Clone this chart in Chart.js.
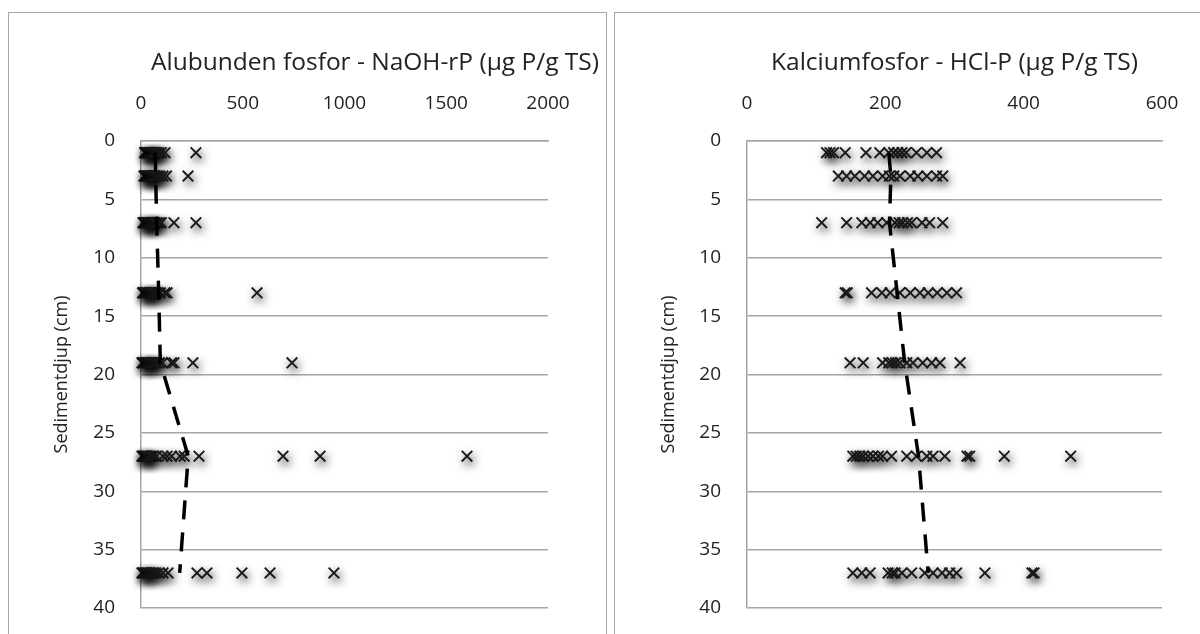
<!DOCTYPE html>
<html>
<head>
<meta charset="utf-8">
<script src="https://cdn.jsdelivr.net/npm/chart.js@4.4.1/dist/chart.umd.min.js"></script>
<style>
    html, body { margin: 0; padding: 0; background: #fff; }
    body { width: 1200px; height: 634px; position: relative; overflow: hidden; }
    .frame { position: absolute; top: 12px; height: 700px; border: 1px solid #a6a6a6; box-sizing: border-box; }
    canvas { position: absolute; top: 0; }
</style>
</head>
<body>
<div class="frame" style="left: 8px; width: 599px;"></div>
<div class="frame" style="left: 614px; width: 700px;"></div>
<canvas id="alChart" width="607" height="634" style="left: 0;"></canvas>
<canvas id="caChart" width="593" height="634" style="left: 607px;"></canvas>
<script>
// Sediment depths (cm) where samples were taken
const depths = [1, 3, 7, 13, 19, 27, 37];

// NaOH-rP (ug P/g TS), one list per depth
const alP = [
    [18, 22, 25, 30, 32, 38, 42, 44, 50, 52, 56, 62, 66, 70, 78, 88, 100, 118, 270],
    [15, 20, 22, 28, 30, 36, 40, 42, 48, 52, 55, 62, 66, 70, 80, 92, 108, 125, 231],
    [10, 15, 18, 22, 25, 32, 35, 38, 45, 48, 52, 60, 64, 68, 78, 90, 100, 162, 270],
    [8, 12, 15, 22, 26, 30, 38, 42, 45, 52, 56, 60, 70, 82, 95, 118, 128, 570],
    [5, 10, 12, 20, 24, 28, 35, 40, 42, 50, 55, 58, 66, 75, 90, 105, 150, 162, 255, 742],
    [5, 10, 12, 15, 20, 25, 28, 35, 42, 50, 60, 75, 108, 128, 150, 192, 212, 285, 698, 880, 1602],
    [5, 10, 12, 20, 25, 28, 35, 42, 50, 60, 72, 88, 108, 133, 275, 324, 496, 634, 948]
];
const alMean = [70, 72, 77, 87, 95, 232, 190];

// HCl-P (ug P/g TS), one list per depth
const caP = [
    [115, 120, 125, 142, 172, 192, 205, 212, 218, 224, 230, 245, 260, 274],
    [132, 144, 156, 170, 182, 196, 206, 212, 221, 236, 247, 260, 274, 283],
    [108, 144, 166, 178, 189, 202, 214, 220, 225, 232, 238, 253, 264, 283],
    [142, 145, 180, 195, 207, 221, 236, 250, 262, 275, 289, 303],
    [149, 168, 196, 205, 210, 215, 221, 231, 240, 254, 267, 279, 308],
    [153, 158, 163, 168, 175, 182, 190, 196, 209, 231, 245, 260, 269, 286, 318, 322, 372, 468],
    [153, 166, 178, 204, 210, 214, 224, 238, 257, 269, 282, 293, 303, 344, 412, 415]
];
const caMean = [205, 208, 206, 217, 228, 248, 262];

const textColor = '#222';
const gridColor = '#a6a6a6';
const tickFont = { family: 'Open Sans', size: 19 };
const axisFont = { family: 'Open Sans', size: 18 };
const titleFont = { family: 'Open Sans', size: 24.5, weight: 'normal' };

function toPoints(lists) {
    return lists.flatMap((vals, i) => vals.map(v => ({ x: v, y: depths[i] })));
}

// Excel style soft shadow behind the markers
const markerShadow = {
    id: 'markerShadow',
    beforeDatasetDraw(chart, args) {
        if (!chart.data.datasets[args.index].shadow) return;
        const ctx = chart.ctx;
        ctx.save();
        ctx.shadowColor = 'rgba(0,0,0,0.85)';
        ctx.shadowBlur = 8;
        ctx.shadowOffsetX = 2;
        ctx.shadowOffsetY = 4;
    },
    afterDatasetDraw(chart, args) {
        if (!chart.data.datasets[args.index].shadow) return;
        chart.ctx.restore();
    }
};

function datasets(values, mean) {
    return [
        {
            // mean profile, drawn on top
            data: mean.map((v, i) => ({ x: v, y: depths[i] })),
            showLine: true,
            borderColor: '#000',
            borderWidth: 3.5,
            borderDash: [19, 13],
            pointRadius: 0
        },
        {
            data: toPoints(values),
            pointStyle: 'crossRot',
            pointRadius: 7.5,
            borderWidth: 1.9,
            borderColor: '#1a1a1a',
            clip: false,
            shadow: true
        }
    ];
}

// drop the label overhang padding so the plot box is exactly where we set it
function noOverhang(s) {
    s.paddingTop = 0;
    s.paddingBottom = 0;
    s.paddingLeft = 0;
    s.paddingRight = 0;
}

function yAxis(width) {
    return {
        type: 'linear',
        reverse: true,
        min: 0,
        max: 40,
        ticks: { stepSize: 5, padding: 26, color: textColor, font: tickFont },
        grid: { color: gridColor, lineWidth: 1.5, drawTicks: false },
        border: { color: gridColor, width: 1.5 },
        title: { display: true, text: 'Sedimentdjup (cm)', color: textColor, font: axisFont, padding: { top: 51, bottom: 0 } },
        afterFit: s => { s.width = width; noOverhang(s); }
    };
}

const plain = v => String(v);

// Aluminium-bound phosphorus
new Chart(document.getElementById('alChart'), {
    type: 'scatter',
    data: { datasets: datasets(alP, alMean) },
    options: {
        responsive: false,
        animation: false,
        devicePixelRatio: 1,
        layout: { padding: { left: 0, right: 8, top: 0, bottom: 26 } },
        plugins: {
            legend: { display: false },
            tooltip: { enabled: false },
            title: {
                display: true,
                text: 'Alubunden fosfor - NaOH-rP (µg P/g TS)',
                align: 'end',
                color: textColor,
                font: titleFont,
                padding: { top: 48, bottom: 0 }
            }
        },
        scales: {
            x: {
                type: 'linear',
                position: 'top',
                min: 0,
                max: 2000,
                ticks: { stepSize: 500, padding: 26, color: textColor, font: tickFont, callback: plain },
                grid: { display: false, drawTicks: false },
                border: { color: gridColor, width: 1.5 },
                afterFit: s => { s.height = 141 - (48 + 24.5 * 1.2); noOverhang(s); }
            },
            y: yAxis(141),
            // empty strip so the plot stops short of the title's right edge
            y2: {
                type: 'linear',
                position: 'right',
                ticks: { display: false },
                grid: { display: false, drawTicks: false },
                border: { display: false },
                afterFit: s => { s.width = 51; noOverhang(s); }
            }
        }
    },
    plugins: [markerShadow]
});

// Calcium-bound phosphorus
new Chart(document.getElementById('caChart'), {
    type: 'scatter',
    data: { datasets: datasets(caP, caMean) },
    options: {
        responsive: false,
        animation: false,
        devicePixelRatio: 1,
        layout: { padding: { left: 0, right: 38, top: 0, bottom: 26 } },
        plugins: {
            legend: { display: false },
            tooltip: { enabled: false }
        },
        scales: {
            x: {
                type: 'linear',
                position: 'top',
                min: 0,
                max: 600,
                ticks: { stepSize: 200, padding: 26, color: textColor, font: tickFont, callback: plain },
                grid: { display: false, drawTicks: false },
                border: { color: gridColor, width: 1.5 },
                title: { display: true, text: 'Kalciumfosfor - HCl-P (µg P/g TS)', color: textColor, font: titleFont, padding: { top: 48, bottom: 0 } },
                afterFit: s => { s.height = 141; noOverhang(s); }
            },
            y: yAxis(140)
        }
    },
    plugins: [markerShadow]
});
</script>
</body>
</html>
